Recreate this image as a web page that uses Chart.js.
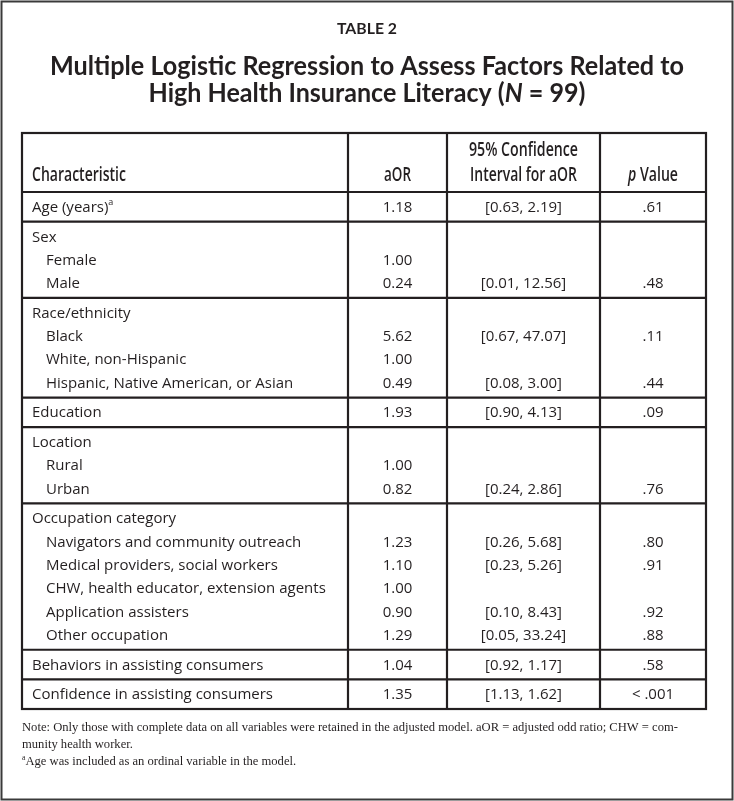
<!DOCTYPE html>
<html>
<head>
<meta charset="utf-8">
<script src="https://cdn.jsdelivr.net/npm/chart.js@4.4.1/dist/chart.umd.min.js"></script>
<style>
    html, body { margin: 0; padding: 0; background: #fff; }
    canvas { display: block; }
</style>
</head>
<body>
<canvas id="tableChart" width="734" height="801"></canvas>
<script>
// Table content
const characteristics = [
    "Age (years)", "Sex", "Female", "Male",
    "Race/ethnicity", "Black", "White, non-Hispanic", "Hispanic, Native American, or Asian",
    "Education", "Location", "Rural", "Urban",
    "Occupation category", "Navigators and community outreach", "Medical providers, social workers",
    "CHW, health educator, extension agents", "Application assisters", "Other occupation",
    "Behaviors in assisting consumers", "Confidence in assisting consumers"
];
const indented = [0, 0, 1, 1, 0, 1, 1, 1, 0, 0, 1, 1, 0, 1, 1, 1, 1, 1, 0, 0];
const groupSizes = [1, 3, 4, 1, 3, 6, 1, 1];
const aorValues = [1.18, null, 1.00, 0.24, null, 5.62, 1.00, 0.49, 1.93, null, 1.00, 0.82, null, 1.23, 1.10, 1.00, 0.90, 1.29, 1.04, 1.35];
const ciLower = [0.63, null, null, 0.01, null, 0.67, null, 0.08, 0.90, null, null, 0.24, null, 0.26, 0.23, null, 0.10, 0.05, 0.92, 1.13];
const ciUpper = [2.19, null, null, 12.56, null, 47.07, null, 3.00, 4.13, null, null, 2.86, null, 5.68, 5.26, null, 8.43, 33.24, 1.17, 1.62];
const pValues = [".61", "", "", ".48", "", ".11", "", ".44", ".09", "", "", ".76", "", ".80", ".91", "", ".92", ".88", ".58", "< .001"];

const tableLabel = "TABLE 2";
const titleLines = ["Multiple Logistic Regression to Assess Factors Related to", "High Health Insurance Literacy ("];
const noteLines = [
    "Note: Only those with complete data on all variables were retained in the adjusted model. aOR = adjusted odd ratio; CHW = com-",
    "munity health worker.",
    "Age was included as an ordinal variable in the model."
];

// Layout (x in table pixels, y in text-line units)
const COL_EDGES = [0, 326, 425, 578, 684];
const HEADER_UNITS = 2.53, PAD_TOP = 0.17, PAD_BOTTOM = 0.1;
const INK = "#231f20";
const BODY_FONT = '15px "Open Sans"';
const HEAD_FONT = '600 19px "Open Sans"';
const NOTE_FONT = '13px "Liberation Serif", serif';

const rowY = [];
const groupTops = [];
let yCursor = HEADER_UNITS;
groupSizes.forEach(n => {
    groupTops.push(yCursor);
    yCursor += PAD_TOP;
    for (let k = 0; k < n; k++) {
        rowY.push(yCursor + 0.5);
        yCursor += 1;
    }
    yCursor += PAD_BOTTOM;
});
const TOTAL_UNITS = yCursor;

// draws runs of text, optionally squeezed to a target width
function drawRuns(ctx, runs, x, y, align, targetWidth) {
    const widths = runs.map(r => { ctx.font = r.font; return ctx.measureText(r.text).width; });
    const natural = widths.reduce((a, b) => a + b, 0);
    const sx = targetWidth ? targetWidth / natural : 1;
    const total = natural * sx;
    let start = x;
    if (align === "center") start = x - total / 2;
    if (align === "right") start = x - total;
    ctx.save();
    ctx.translate(start, y);
    ctx.scale(sx, 1);
    ctx.textAlign = "left";
    ctx.textBaseline = "middle";
    let cx = 0;
    runs.forEach((r, i) => {
        ctx.font = r.font;
        ctx.fillText(r.text, cx, r.dy || 0);
        cx += widths[i];
    });
    ctx.restore();
    return sx;
}

const tablePlugin = {
    id: "tablePlugin",
    beforeDraw(chart) {
        const ctx = chart.ctx;
        ctx.save();
        ctx.fillStyle = "#fff";
        ctx.fillRect(0, 0, chart.width, chart.height);
        ctx.strokeStyle = "#3a3a3a";
        ctx.lineWidth = 2;
        ctx.strokeRect(1.5, 1.5, chart.width - 3, chart.height - 3);
        ctx.restore();
    },
    afterDraw(chart) {
        const ctx = chart.ctx;
        const xs = chart.scales.x, ys = chart.scales.y;
        const meta = chart.getDatasetMeta(0);
        const colX = COL_EDGES.map(v => xs.getPixelForValue(v));
        const top = ys.getPixelForValue(0), bottom = ys.getPixelForValue(TOTAL_UNITS);
        const mid = i => (colX[i] + colX[i + 1]) / 2;

        ctx.save();
        ctx.fillStyle = INK;

        // titles
        drawRuns(ctx, [{ text: tableLabel, font: 'bold 16px Lato' }], 367, 29, "center", 60);
        drawRuns(ctx, [{ text: titleLines[0], font: 'bold 26px Lato' }], 367, 67, "center", 634);
        drawRuns(ctx, [
            { text: titleLines[1], font: 'bold 26px Lato' },
            { text: "N", font: 'italic bold 26px Lato' },
            { text: " = 99)", font: 'bold 26px Lato' }
        ], 367, 94, "center", 437);

        // grid
        ctx.strokeStyle = INK;
        ctx.lineWidth = 2.2;
        ctx.strokeRect(colX[0], top, colX[4] - colX[0], bottom - top);
        ctx.beginPath();
        for (let c = 1; c < 4; c++) {
            ctx.moveTo(colX[c], top);
            ctx.lineTo(colX[c], bottom);
        }
        groupTops.forEach(g => {
            const py = ys.getPixelForValue(g);
            ctx.moveTo(colX[0], py);
            ctx.lineTo(colX[4], py);
        });
        ctx.stroke();

        // header
        const h1 = ys.getPixelForValue(0.77), h2 = ys.getPixelForValue(1.84);
        drawRuns(ctx, [{ text: "Characteristic", font: HEAD_FONT }], colX[0] + 10, h2, "left", 94);
        drawRuns(ctx, [{ text: "aOR", font: HEAD_FONT }], mid(1), h2, "center", 27);
        drawRuns(ctx, [{ text: "95% Confidence", font: HEAD_FONT }], mid(2), h1, "center", 109);
        drawRuns(ctx, [{ text: "Interval for aOR", font: HEAD_FONT }], mid(2), h2, "center", 107);
        drawRuns(ctx, [
            { text: "p", font: "italic " + HEAD_FONT },
            { text: " Value", font: HEAD_FONT }
        ], mid(3), h2, "center", 50);

        // body rows
        characteristics.forEach((label, i) => {
            const py = meta.data[i].y;
            const lx = colX[0] + (indented[i] ? 24 : 10);
            const runs = [{ text: label, font: BODY_FONT }];
            if (i === 0) runs.push({ text: "a", font: '9px "Open Sans"', dy: -5 });
            drawRuns(ctx, runs, lx, py, "left");
            if (aorValues[i] !== null) {
                drawRuns(ctx, [{ text: aorValues[i].toFixed(2), font: BODY_FONT }], mid(1), py, "center");
            }
            if (ciLower[i] !== null) {
                const ci = "[" + ciLower[i].toFixed(2) + ", " + ciUpper[i].toFixed(2) + "]";
                drawRuns(ctx, [{ text: ci, font: BODY_FONT }], mid(2), py, "center");
            }
            if (pValues[i]) {
                drawRuns(ctx, [{ text: pValues[i], font: BODY_FONT }], mid(3), py, "center");
            }
        });

        // notes
        const sx = drawRuns(ctx, [{ text: noteLines[0], font: NOTE_FONT }], colX[0], bottom + 19, "left", 656);
        ctx.save();
        ctx.translate(colX[0], 0);
        ctx.scale(sx, 1);
        drawRuns(ctx, [{ text: noteLines[1], font: NOTE_FONT }], 0, bottom + 36, "left");
        drawRuns(ctx, [
            { text: "a", font: '8px "Liberation Serif", serif', dy: -4 },
            { text: noteLines[2], font: NOTE_FONT }
        ], 0, bottom + 53, "left");
        ctx.restore();

        ctx.restore();
    }
};

new Chart(document.getElementById("tableChart"), {
    type: "scatter",
    data: {
        datasets: [{
            data: rowY.map(y => ({ x: 0, y: y })),
            pointRadius: 0,
            pointHoverRadius: 0
        }]
    },
    options: {
        responsive: false,
        animation: false,
        devicePixelRatio: 1,
        layout: { padding: { left: 22, right: 28, top: 133, bottom: 92 } },
        scales: {
            x: { type: "linear", min: COL_EDGES[0], max: COL_EDGES[4], display: false },
            y: { type: "linear", min: 0, max: TOTAL_UNITS, reverse: true, display: false }
        },
        plugins: {
            legend: { display: false },
            tooltip: { enabled: false }
        }
    },
    plugins: [tablePlugin]
});
</script>
</body>
</html>
